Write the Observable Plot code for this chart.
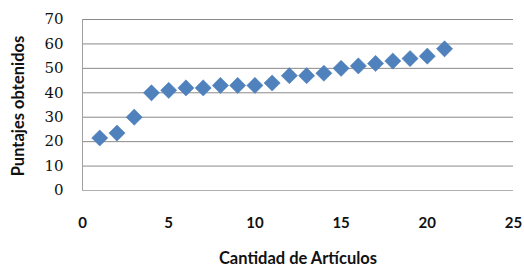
<!DOCTYPE html>
<html>
<head>
<meta charset="utf-8">
<script src="https://cdn.jsdelivr.net/npm/d3@7"></script>
<script src="https://cdn.jsdelivr.net/npm/@observablehq/plot@0.6"></script>
<style>
  html, body { margin: 0; padding: 0; background: #fff; }
  svg { display: block; }
</style>
</head>
<body>
<div id="chart"></div>
<script>
const articulos = [1, 2, 3, 4, 5, 6, 7, 8, 9, 10, 11, 12, 13, 14, 15, 16, 17, 18, 19, 20, 21];
const puntajes  = [21.5, 23.5, 30, 40, 41, 42, 42, 43, 43, 43, 44, 47, 47, 48, 50, 51, 52, 53, 54, 55, 58];
const xTicks = [0, 5, 10, 15, 20, 25];
const yTicks = [0, 10, 20, 30, 40, 50, 60, 70];
const xLabel = "Cantidad de Artículos";
const yLabel = "Puntajes obtenidos";

const data = articulos.map((a, i) => ({x: a, y: puntajes[i]}));
const sans = "Lato, 'Liberation Sans', sans-serif";
const serif = "'DejaVu Serif', 'Liberation Serif', serif";

const chart = Plot.plot({
  width: 524,
  height: 270,
  marginLeft: 82,
  marginRight: 11,
  marginTop: 19,
  marginBottom: 80,
  style: {fontFamily: sans, fontSize: "14px", color: "#111", background: "#fff"},
  x: {domain: [0, 25], ticks: xTicks},
  y: {domain: [0, 70], ticks: yTicks},
  marks: [
    Plot.ruleY(yTicks.filter(d => d > 0), {stroke: "#8a8a8a", strokeWidth: 1}),
    Plot.ruleY([0], {stroke: "#b0b0b0", strokeWidth: 1}),
    Plot.ruleX([0], {stroke: "#a0a0a0", strokeWidth: 1}),
    Plot.axisX({ticks: xTicks, tickSize: 0, tickPadding: 27, label: null, fontSize: 15, fontWeight: "bold", fontFamily: sans}),
    Plot.axisY({ticks: yTicks, tickSize: 0, tickPadding: 19, label: null, fontSize: 15, fontFamily: serif}),
    Plot.dot(data, {x: "x", y: "y", symbol: "diamond2", r: 7.3, fill: "#4F81BD", stroke: "#4a7bb5", strokeWidth: 0.5}),
    Plot.text([xLabel], {frameAnchor: "bottom", dy: 73, fontSize: 16.5, fontWeight: "bold", fontFamily: sans}),
    Plot.text([yLabel], {frameAnchor: "left", textAnchor: "middle", dx: -64, dy: 1, rotate: -90, fontSize: 16.5, fontWeight: "bold", fontFamily: sans})
  ]
});
document.getElementById("chart").appendChild(chart);
</script>
</body>
</html>
